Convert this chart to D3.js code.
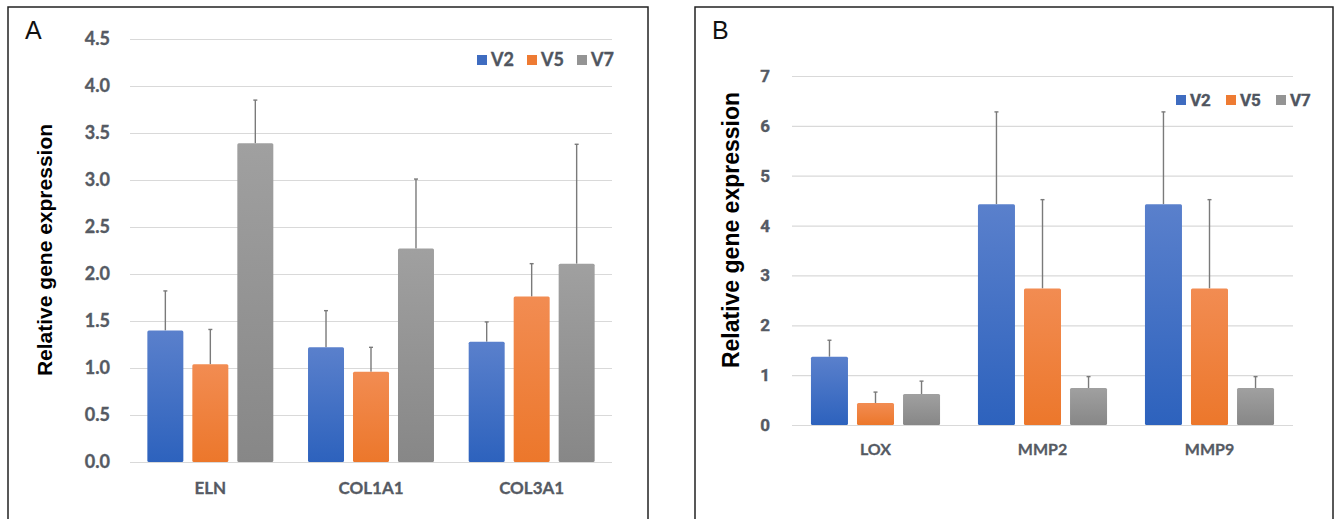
<!DOCTYPE html>
<html lang="en">
<head>
<meta charset="UTF-8">
<title>Relative gene expression</title>
<script src="https://cdn.jsdelivr.net/npm/d3@7"></script>
<style>
  html, body { margin: 0; padding: 0; background: #fff; }
  svg { display: block; }
</style>
</head>
<body>
<svg width="1338" height="519"></svg>
<script>
// series shared by both panels
var seriesNames = ["V2", "V5", "V7"];
var seriesColors = ["#3f6cc0", "#ee7b33", "#949494"];

// panel A
var genesA = ["ELN", "COL1A1", "COL3A1"];
var meanA_V2 = [1.40, 1.22, 1.28];
var meanA_V5 = [1.04, 0.96, 1.76];
var meanA_V7 = [3.39, 2.27, 2.11];
var sdA_V2 = [0.42, 0.39, 0.21];
var sdA_V5 = [0.37, 0.26, 0.35];
var sdA_V7 = [0.46, 0.74, 1.27];
var ticksA = [0, 0.5, 1.0, 1.5, 2.0, 2.5, 3.0, 3.5, 4.0, 4.5];

// panel B
var genesB = ["LOX", "MMP2", "MMP9"];
var meanB_V2 = [1.37, 4.43, 4.43];
var meanB_V5 = [0.44, 2.74, 2.74];
var meanB_V7 = [0.62, 0.74, 0.74];
var sdB_V2 = [0.33, 1.85, 1.85];
var sdB_V5 = [0.22, 1.78, 1.78];
var sdB_V7 = [0.26, 0.23, 0.23];
var ticksB = [0, 1, 2, 3, 4, 5, 6, 7];

var svg = d3.select("svg");

// gradients for the bars (lighter top, a bit darker bottom)
var defs = svg.append("defs");
var gradStops = [["#5a80cc", "#2d62bd"], ["#f28c52", "#ec772b"], ["#a0a0a0", "#878787"]];
gradStops.forEach(function (s, i) {
    var lg = defs.append("linearGradient").attr("id", "grad" + i)
        .attr("x1", 0).attr("y1", 0).attr("x2", 0).attr("y2", 1);
    lg.append("stop").attr("offset", "0%").attr("stop-color", s[0]);
    lg.append("stop").attr("offset", "100%").attr("stop-color", s[1]);
});

function drawPanel(p) {
    var root = svg.append("g");

    // frame (bottom edge runs off the picture)
    root.append("rect")
        .attr("x", p.frame[0]).attr("y", p.frame[1])
        .attr("width", p.frame[2]).attr("height", p.frame[3])
        .attr("fill", "none").attr("stroke", "#222").attr("stroke-width", 1.5);

    root.append("text")
        .attr("x", p.letterPos[0]).attr("y", p.letterPos[1])
        .attr("font-family", "Liberation Sans, Arial, sans-serif")
        .attr("font-size", 25).attr("fill", "#111")
        .text(p.letter);

    var y = d3.scaleLinear().domain(p.yDomain).range([p.y0, p.yTop]);
    var x0 = d3.scaleBand().domain(p.genes).range([p.xLeft, p.xRight])
        .paddingInner(p.groupPad).paddingOuter(p.groupPad / 2);
    var x1 = d3.scaleBand().domain(seriesNames).range([0, x0.bandwidth()])
        .paddingInner(p.barPad);

    // y axis with gridlines
    var yAxis = d3.axisLeft(y).tickValues(p.ticks)
        .tickFormat(p.tickFormat)
        .tickSize(-(p.xRight - p.xLeft)).tickPadding(p.tickPad);
    var ga = root.append("g").attr("transform", "translate(" + p.xLeft + ",0)").call(yAxis);
    ga.select(".domain").remove();
    ga.selectAll(".tick line").attr("stroke", "#d9d9d9").attr("stroke-width", 1.2);
    ga.selectAll(".tick text")
        .attr("font-family", p.tickFont).attr("font-weight", "bold")
        .attr("font-size", p.tickSize).attr("fill", "#555a63")
        .attr("stroke", "#555a63").attr("stroke-width", 0.35);

    // x axis labels
    var xAxis = d3.axisBottom(x0).tickSize(0).tickPadding(p.xPad);
    var gx = root.append("g").attr("transform", "translate(0," + p.y0 + ")").call(xAxis);
    gx.select(".domain").remove();
    gx.selectAll(".tick text")
        .attr("font-family", "Lato, Open Sans, sans-serif").attr("font-weight", "bold")
        .attr("font-size", p.xSize).attr("fill", "#555a63")
        .attr("stroke", "#555a63").attr("stroke-width", 0.3);

    // y title
    root.append("text")
        .attr("transform", "translate(" + p.titlePos[0] + "," + p.titlePos[1] + ") rotate(-90)")
        .attr("text-anchor", "middle")
        .attr("font-family", "Liberation Sans, Arial, sans-serif")
        .attr("font-weight", "bold").attr("font-size", p.titleSize).attr("fill", "#000")
        .text("Relative gene expression");

    // rows: one per gene with values per series
    var rows = p.genes.map(function (g, gi) {
        return {
            gene: g,
            bars: seriesNames.map(function (s, si) {
                return { series: s, idx: si, mean: p.means[si][gi], sd: p.sds[si][gi] };
            })
        };
    });

    var groups = root.selectAll(".grp").data(rows).enter().append("g")
        .attr("transform", function (d) { return "translate(" + x0(d.gene) + ",0)"; });

    var bars = groups.selectAll(".bar").data(function (d) { return d.bars; }).enter();

    // error bars (upper whisker only), drawn behind bars
    bars.append("line")
        .attr("x1", function (d) { return x1(d.series) + x1.bandwidth() / 2; })
        .attr("x2", function (d) { return x1(d.series) + x1.bandwidth() / 2; })
        .attr("y1", function (d) { return y(d.mean); })
        .attr("y2", function (d) { return y(d.mean + d.sd); })
        .attr("stroke", "#7a7a7a").attr("stroke-width", 1.4);
    bars.append("line")
        .attr("x1", function (d) { return x1(d.series) + x1.bandwidth() / 2 - 2; })
        .attr("x2", function (d) { return x1(d.series) + x1.bandwidth() / 2 + 2; })
        .attr("y1", function (d) { return y(d.mean + d.sd); })
        .attr("y2", function (d) { return y(d.mean + d.sd); })
        .attr("stroke", "#7a7a7a").attr("stroke-width", 1.4);

    bars.append("rect")
        .attr("x", function (d) { return x1(d.series); })
        .attr("y", function (d) { return y(d.mean); })
        .attr("width", x1.bandwidth())
        .attr("height", function (d) { return y(0) - y(d.mean); })
        .attr("rx", 1.5)
        .attr("fill", function (d) { return "url(#grad" + d.idx + ")"; });

    // legend
    var lg = root.selectAll(".lg").data(seriesNames).enter().append("g")
        .attr("transform", function (d, i) {
            return "translate(" + (p.legendX + i * p.legendStep) + "," + p.legendY + ")";
        });
    lg.append("rect").attr("x", 0).attr("y", -5).attr("width", 10).attr("height", 10)
        .attr("fill", function (d, i) { return seriesColors[i]; });
    lg.append("text").attr("x", 14).attr("y", 0).attr("dy", "0.36em")
        .attr("font-family", p.legendFont).attr("font-weight", "bold")
        .attr("font-size", p.legendSize).attr("fill", "#4f5560")
        .attr("stroke", "#4f5560").attr("stroke-width", 0.35)
        .text(function (d) { return d; });
}

drawPanel({
    letter: "A", letterPos: [25, 39], frame: [8, 7, 640, 530],
    genes: genesA, means: [meanA_V2, meanA_V5, meanA_V7], sds: [sdA_V2, sdA_V5, sdA_V7],
    ticks: ticksA, tickFormat: d3.format(".1f"), yDomain: [0, 4.5],
    y0: 462, yTop: 39, xLeft: 130, xRight: 612,
    groupPad: 0.216, barPad: 0.2, tickPad: 20, xPad: 20, xSize: 17,
    tickFont: "Lato, Open Sans, sans-serif", tickSize: 18,
    titlePos: [52, 250], titleSize: 21,
    legendX: 477, legendY: 60, legendStep: 50, legendSize: 18,
    legendFont: "Lato, Open Sans, sans-serif"
});

drawPanel({
    letter: "B", letterPos: [712, 39], frame: [695, 7, 638, 530],
    genes: genesB, means: [meanB_V2, meanB_V5, meanB_V7], sds: [sdB_V2, sdB_V5, sdB_V7],
    ticks: ticksB, tickFormat: d3.format("d"), yDomain: [0, 7],
    y0: 425, yTop: 76, xLeft: 792, xRight: 1293,
    groupPad: 0.227, barPad: 0.196, tickPad: 22, xPad: 19, xSize: 16,
    tickFont: "Liberation Sans Narrow, Arial Narrow, Roboto, sans-serif", tickSize: 17,
    titlePos: [739, 230], titleSize: 23,
    legendX: 1176, legendY: 100, legendStep: 50, legendSize: 17,
    legendFont: "Liberation Sans Narrow, Arial Narrow, Roboto, sans-serif"
});
</script>
</body>
</html>
